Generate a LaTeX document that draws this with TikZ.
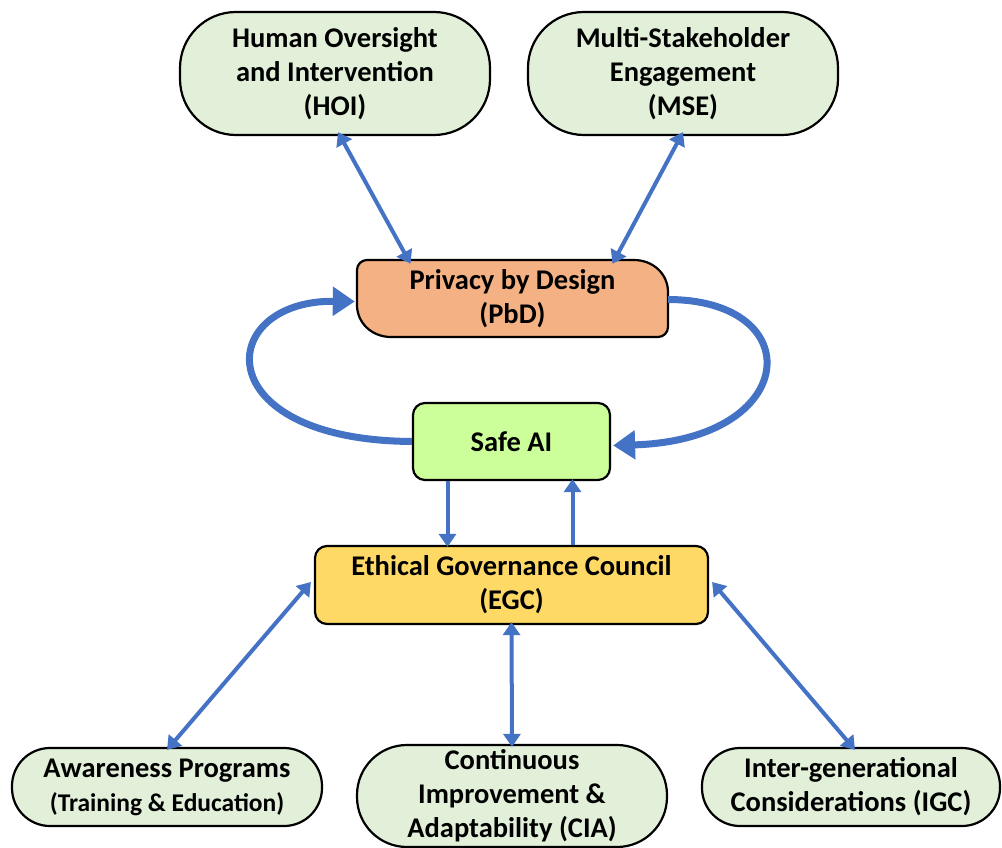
\documentclass[tikz,border=0pt]{standalone}
\usepackage{fontspec}
\setmainfont{Carlito}
\usetikzlibrary{arrows.meta,calc}
\definecolor{linkblue}{HTML}{4472C4}
\definecolor{paleg}{HTML}{E2F0D9}
\definecolor{pbdfill}{HTML}{F4B183}
\definecolor{safefill}{HTML}{CCFF99}
\definecolor{egcfill}{HTML}{FFD966}
\tikzset{
  txt/.style={font=\fontsize{28.5}{34}\selectfont\bfseries, align=center, inner sep=0pt},
  pill/.style={txt, draw=black, line width=2.2pt, fill=paleg, rectangle, minimum width=#1},
  boxn/.style={txt, draw=black, line width=2.2pt, rounded corners=12pt, rectangle},
  thin/.style={draw=linkblue, line width=4pt, {Triangle[width=17pt,length=13pt]}-{Triangle[width=17pt,length=13pt]}},
  thinone/.style={draw=linkblue, line width=4pt, -{Triangle[width=17pt,length=13pt]}},
  thick/.style={draw=linkblue, line width=7pt, -{Triangle[width=28pt,length=22pt]}},
}
\begin{document}
\begin{tikzpicture}[x=1pt,y=-1pt]
\useasboundingbox (0,0) rectangle (1002,848);
\node[pill=310pt, minimum height=123pt, rounded corners=56pt] (hoi) at (335,73.5) {Human Oversight\\and Intervention\\(HOI)};
\node[pill=310pt, minimum height=123pt, rounded corners=56pt] (mse) at (683,73.5) {Multi-Stakeholder\\Engagement\\(MSE)};
% PbD shape (round-diagonal rectangle)
\fill[pbdfill, draw=black, line width=2.2pt]
  (367,260) -- (634,260) .. controls (653,260) and (668,274) .. (668,292)
  -- (668,327) .. controls (668,332.5) and (663.5,337) .. (658,337)
  -- (391,337) .. controls (372,337) and (357,323) .. (357,305)
  -- (357,270) .. controls (357,264.5) and (361.5,260) .. (367,260) -- cycle;
\node[txt, minimum width=311pt, minimum height=77pt] (pbd) at (512.5,298.5) {Privacy by Design\\(PbD)};
\node[boxn, fill=safefill, minimum width=197pt, minimum height=77pt] (safe) at (511.5,441.5) {Safe AI};
\node[boxn, fill=egcfill, minimum width=393pt, minimum height=78pt] (egc) at (511.5,585) {Ethical Governance Council\\(EGC)};
\node[pill=310pt, minimum height=78pt, rounded corners=38pt] (aw) at (167,787) {Awareness Programs\\{\fontsize{25.5}{31}\selectfont(Training \& Education)}};
\node[pill=310pt, minimum height=102pt, rounded corners=50pt] (cia) at (512,796) {Continuous\\Improvement \&\\Adaptability (CIA)};
\node[pill=298pt, minimum height=78pt, rounded corners=38pt] (igc) at (851,787) {Inter-generational\\Considerations (IGC)};
% connectors
\draw[thin] ([xshift=3pt,yshift=4pt]hoi.south) -- ([xshift=-102pt,yshift=-4pt]pbd.north);
\draw[thin] ([yshift=4pt]mse.south) -- ([xshift=100pt,yshift=-4pt]pbd.north);
\draw[thick] (safe.west) .. controls (205,440) and (215,300) .. ([xshift=-2pt,yshift=-3pt]pbd.west);
\draw[thick] ([yshift=-1pt]pbd.east) .. controls (810,300) and (800,440) .. ([xshift=2pt,yshift=-4pt]safe.east);
\draw[thinone] ([xshift=-64pt]safe.south) -- ([xshift=-64pt,yshift=-2pt]egc.north);
\draw[thinone] ([xshift=61pt]egc.north) -- ([xshift=61pt,yshift=2pt]safe.south);
\draw[thin] ([xshift=-3pt,yshift=3pt]egc.west) -- ([yshift=-3pt]aw.north);
\draw[thin] ([yshift=3pt]egc.south) -- ([yshift=-3pt]cia.north);
\draw[thin] ([xshift=3pt,yshift=3pt]egc.east) -- ([xshift=4pt,yshift=-3pt]igc.north);
\end{tikzpicture}
\end{document}
